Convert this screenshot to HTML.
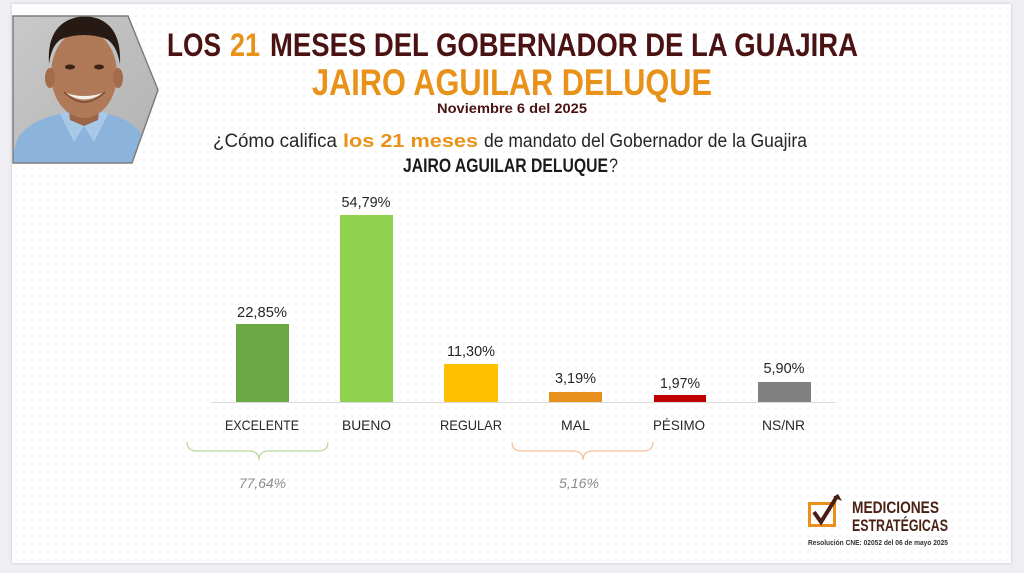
<!DOCTYPE html>
<html><head><meta charset="utf-8">
<style>
html,body{margin:0;padding:0;background:#efeff3;}
body{width:1024px;height:573px;overflow:hidden;position:relative;}
.slide{position:absolute;left:12px;top:4px;width:999px;height:559px;background-color:#fff;
background-image:radial-gradient(circle,#ececec 0.7px,transparent 1px);background-size:8px 8px;
box-shadow:0 0 3px rgba(0,0,0,0.18);}
svg{position:absolute;left:0;top:0;}
text{font-family:"Liberation Sans",sans-serif;}
</style></head>
<body>
<div class="slide"></div>
<svg width="1024" height="573" viewBox="0 0 1024 573" xmlns="http://www.w3.org/2000/svg">
<defs>
<clipPath id="ph"><polygon points="13,16 128,16 158,90 132,163 13,163"/></clipPath>
<linearGradient id="bg" x1="0" y1="0" x2="1" y2="1"><stop offset="0" stop-color="#c9c9c9"/><stop offset="1" stop-color="#b2b2b2"/></linearGradient>
</defs>
<!-- photo -->
<g clip-path="url(#ph)">
<rect x="13" y="16" width="146" height="148" fill="url(#bg)"/>
<!-- shirt -->
<path d="M10,163 L18,138 Q30,120 60,114 L84,124 L108,114 Q134,120 144,138 L152,163 Z" fill="#8cb3dc"/>
<path d="M60,114 L74,142 L84,126 L94,142 L108,114 L98,110 L84,124 L70,110 Z" fill="#a8c8e8"/>
<!-- neck -->
<path d="M68,102 L100,102 L98,120 L84,126 L70,120 Z" fill="#9c6548"/>
<!-- face -->
<ellipse cx="84" cy="74" rx="33" ry="44" fill="#b07a58"/>
<ellipse cx="50" cy="78" rx="5" ry="10" fill="#a36d4c"/>
<ellipse cx="118" cy="78" rx="5" ry="10" fill="#a36d4c"/>
<!-- hair -->
<path d="M49,64 Q46,20 84,16 Q122,18 120,64 Q116,42 104,38 Q84,32 64,38 Q52,42 49,64 Z" fill="#271a14"/>
<!-- eyes -->
<ellipse cx="70" cy="67" rx="5" ry="2.5" fill="#3a2418"/>
<ellipse cx="99" cy="67" rx="5" ry="2.5" fill="#3a2418"/>
<!-- smile -->
<path d="M66,93 Q84,106 103,93 Q84,99 66,93 Z" fill="#f4f0ea"/>
<path d="M64,92 Q84,112 105,92" fill="none" stroke="#7a4a34" stroke-width="1.5"/>
</g>
<polygon points="13,16 128,16 158,90 132,163 13,163" fill="none" stroke="#7d7d7d" stroke-width="1.5"/>

<!-- title -->
<text x="167" y="56" font-size="32" font-weight="bold" fill="#4a1212" textLength="54" lengthAdjust="spacingAndGlyphs">LOS</text>
<text x="230" y="56" font-size="32" font-weight="bold" fill="#e8921a" textLength="30" lengthAdjust="spacingAndGlyphs">21</text>
<text x="270" y="56" font-size="32" font-weight="bold" fill="#4a1212" textLength="588" lengthAdjust="spacingAndGlyphs">MESES DEL GOBERNADOR DE LA GUAJIRA</text>
<text x="312" y="95" font-size="37" font-weight="bold" fill="#e8921a" textLength="400" lengthAdjust="spacingAndGlyphs">JAIRO AGUILAR DELUQUE</text>
<text x="437" y="113" font-size="14" font-weight="bold" fill="#4a1212" textLength="150" lengthAdjust="spacingAndGlyphs">Noviembre 6 del 2025</text>

<!-- question -->
<text x="213" y="147" font-size="19" fill="#262626" textLength="124" lengthAdjust="spacingAndGlyphs">¿Cómo califica</text>
<text x="343" y="147" font-size="18" font-weight="bold" fill="#e8921a" textLength="135" lengthAdjust="spacingAndGlyphs">los 21 meses</text>
<text x="484" y="147" font-size="19" fill="#262626" textLength="323" lengthAdjust="spacingAndGlyphs">de mandato del Gobernador de la Guajira</text>
<text x="403" y="172" font-size="19" font-weight="bold" fill="#1a1a1a" textLength="205" lengthAdjust="spacingAndGlyphs">JAIRO AGUILAR DELUQUE</text>
<text x="609" y="172" font-size="19" fill="#262626" textLength="9" lengthAdjust="spacingAndGlyphs">?</text>

<!-- axis -->
<line x1="211" y1="402.5" x2="835" y2="402.5" stroke="#d9d9d9" stroke-width="1"/>

<!-- bars -->
<rect x="236" y="324" width="53" height="78" fill="#6aa944"/>
<rect x="340" y="215" width="53" height="187" fill="#90d150"/>
<rect x="444" y="364" width="54" height="38" fill="#ffc000"/>
<rect x="549" y="392" width="53" height="10" fill="#e8901c"/>
<rect x="654" y="395" width="52" height="7" fill="#c00000"/>
<rect x="758" y="382" width="53" height="20" fill="#808080"/>

<!-- value labels -->
<g font-size="15" fill="#262626" text-anchor="middle">
<text x="262" y="317" textLength="50" lengthAdjust="spacingAndGlyphs">22,85%</text>
<text x="366" y="207" textLength="49" lengthAdjust="spacingAndGlyphs">54,79%</text>
<text x="471" y="356" textLength="48" lengthAdjust="spacingAndGlyphs">11,30%</text>
<text x="575.5" y="383" textLength="41" lengthAdjust="spacingAndGlyphs">3,19%</text>
<text x="680" y="388" textLength="40" lengthAdjust="spacingAndGlyphs">1,97%</text>
<text x="784" y="373" textLength="41" lengthAdjust="spacingAndGlyphs">5,90%</text>
</g>

<!-- category labels -->
<g font-size="14" fill="#262626">
<text x="225" y="430" textLength="74" lengthAdjust="spacingAndGlyphs">EXCELENTE</text>
<text x="342" y="430" textLength="49" lengthAdjust="spacingAndGlyphs">BUENO</text>
<text x="440" y="430" textLength="62" lengthAdjust="spacingAndGlyphs">REGULAR</text>
<text x="561" y="430" textLength="29" lengthAdjust="spacingAndGlyphs">MAL</text>
<text x="653" y="430" textLength="52" lengthAdjust="spacingAndGlyphs">PÉSIMO</text>
<text x="762" y="430" textLength="43" lengthAdjust="spacingAndGlyphs">NS/NR</text>
</g>

<!-- braces -->
<path d="M187,442 Q187,451 197,451 L249,451 Q259,451 259,460 Q259,451 269,451 L318,451 Q328,451 328,442" fill="none" stroke="#b5d99c" stroke-width="1.2"/>
<path d="M512,442 Q512,451 522,451 L573,451 Q583,451 583,460 Q583,451 593,451 L643,451 Q653,451 653,442" fill="none" stroke="#f5bf98" stroke-width="1.2"/>
<g font-size="14" font-style="italic" fill="#8c8c8c">
<text x="239" y="488" textLength="47" lengthAdjust="spacingAndGlyphs">77,64%</text>
<text x="559" y="488" textLength="40" lengthAdjust="spacingAndGlyphs">5,16%</text>
</g>

<!-- logo -->
<rect x="809.5" y="503.5" width="25" height="22" fill="none" stroke="#ea8f1c" stroke-width="3"/>
<path d="M814,512 L821,522 L836,498" fill="none" stroke="#4a1e12" stroke-width="4" stroke-linejoin="miter"/>
<path d="M833,497 L838,494 L842,501 Z" fill="#4a1e12"/>
<text x="852" y="513" font-size="17" font-weight="bold" fill="#4a2214" textLength="87" lengthAdjust="spacingAndGlyphs">MEDICIONES</text>
<text x="852" y="531" font-size="17" font-weight="bold" fill="#4a2214" textLength="96" lengthAdjust="spacingAndGlyphs">ESTRATÉGICAS</text>
<text x="808" y="545" font-size="7" font-weight="bold" fill="#333" textLength="140" lengthAdjust="spacingAndGlyphs">Resolución CNE: 02052 del 06 de mayo 2025</text>
</svg>
</body></html>
